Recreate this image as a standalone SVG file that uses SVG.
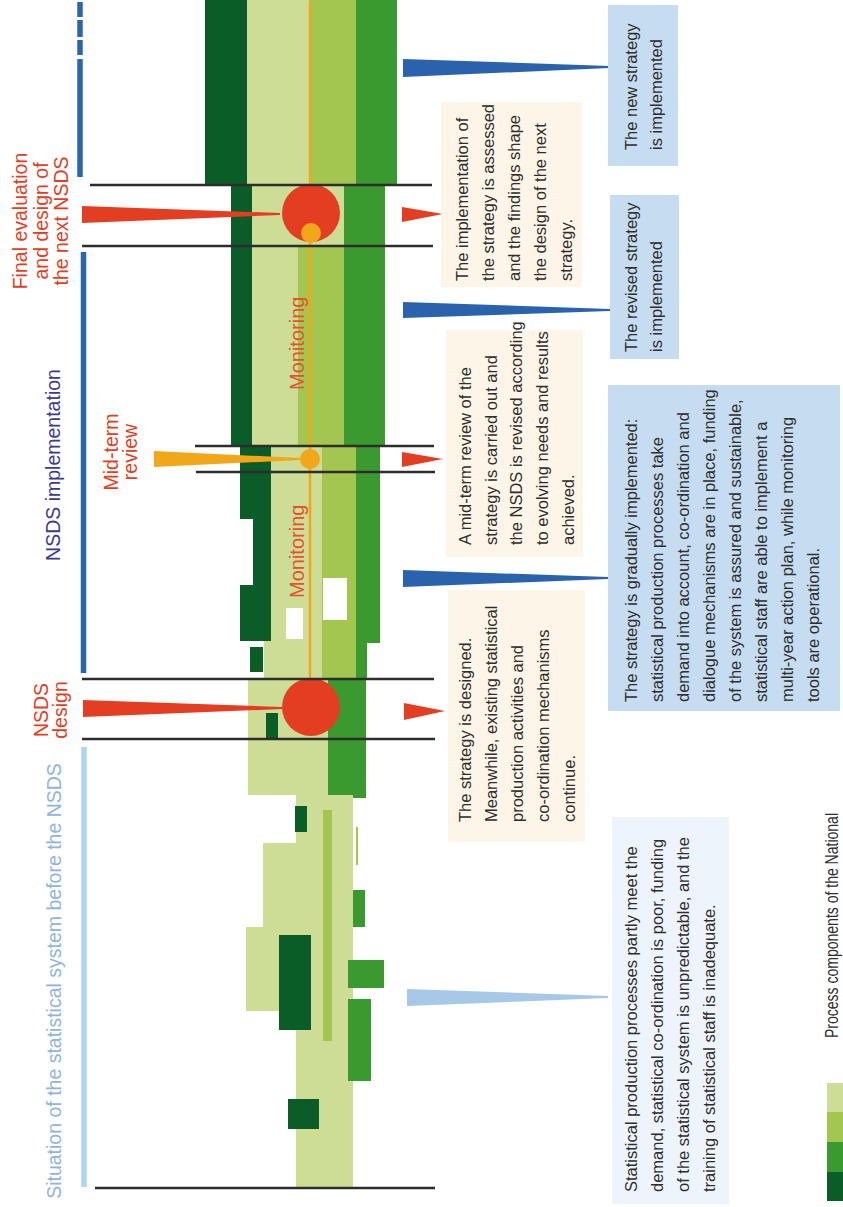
<svg xmlns="http://www.w3.org/2000/svg" width="843" height="1207" viewBox="0 0 843 1207">
<style>
.dg{fill:#0b5d27}.g{fill:#3a9a2f}.mg{fill:#a3c651}.lg{fill:#cddd95}.wh{fill:#fff}
.bl{stroke:#2d2d2d;stroke-width:2.5}
.box{font-family:"Liberation Sans",Arial,sans-serif;font-size:16.5px;fill:#2e2e2e}
.lab{font-family:"Liberation Sans",Arial,sans-serif;font-size:19.5px}
.mon{font-size:20px;fill:#e8502a}
.leg{font-size:18px}
.red{fill:#e33e22}.tan{fill:#fdf5e7}.bbox{fill:#c6dcf0}
</style>
<rect width="843" height="1207" fill="#fff"/>
<g id="band">
<rect class="dg" x="205" y="0" width="42" height="185"/>
<rect class="lg" x="247" y="0" width="62" height="185"/>
<rect class="mg" x="309" y="0" width="47" height="185"/>
<rect class="g" x="356" y="0" width="41" height="185"/>
<rect class="dg" x="231" y="185" width="21" height="261"/>
<rect class="lg" x="252" y="185" width="46" height="261"/>
<rect class="lg" x="298" y="185" width="46" height="61"/>
<rect class="mg" x="298" y="246" width="46" height="200"/>
<rect class="g" x="344" y="185" width="41" height="261"/>
<path class="dg" d="M240,446H271V641H240V585H253V519H240Z"/>
<rect class="lg" x="271" y="446" width="51" height="195"/>
<rect class="lg" x="264" y="641" width="58" height="38"/>
<rect class="mg" x="322" y="446" width="34" height="233"/>
<rect class="g" x="356" y="446" width="24" height="197"/>
<rect class="g" x="356" y="643" width="11" height="36"/>
<rect class="wh" x="323" y="578" width="24" height="42"/>
<rect class="wh" x="286" y="608" width="17" height="31"/>
<rect class="dg" x="250" y="647" width="13" height="25"/>
<rect class="lg" x="248" y="679" width="80" height="116"/>
<rect class="g" x="328" y="679" width="38" height="119"/>
<rect class="dg" x="266" y="713" width="12" height="26"/>
<rect class="lg" x="296" y="795" width="57" height="393"/>
<rect class="lg" x="263" y="843" width="33" height="84"/>
<rect class="lg" x="246" y="927" width="50" height="84"/>
<rect class="dg" x="295" y="806" width="12" height="26"/>
<rect class="dg" x="279" y="935" width="32" height="95"/>
<rect class="dg" x="288" y="1099" width="31" height="30"/>
<rect class="mg" x="323" y="810" width="9" height="231"/>
<rect class="mg" x="356" y="827" width="2" height="38"/>
<rect class="g" x="353" y="890" width="12" height="37"/>
<rect class="g" x="348" y="960" width="36" height="28"/>
<rect class="g" x="348" y="999" width="23" height="82"/>
<line x1="310" y1="2" x2="310" y2="680" stroke="#f2a71b" stroke-width="2.5"/>
<circle class="red" cx="311" cy="213" r="29"/>
<circle cx="311" cy="233" r="10" fill="#f2a71b"/>
<circle cx="310" cy="459" r="10" fill="#f2a71b"/>
<circle class="red" cx="311" cy="707" r="29"/>
<text class="lab mon" transform="translate(304,390) rotate(-90)">Monitoring</text>
<text class="lab mon" transform="translate(304,598) rotate(-90)">Monitoring</text>
</g>
<g id="timeline">
<line class="bl" x1="90" y1="185" x2="432" y2="185"/>
<line class="bl" x1="82" y1="246" x2="433" y2="246"/>
<line class="bl" x1="195" y1="446" x2="434" y2="446"/>
<line class="bl" x1="196" y1="472" x2="435" y2="472"/>
<line class="bl" x1="82" y1="679" x2="434" y2="679"/>
<line class="bl" x1="82" y1="739" x2="435" y2="739"/>
<line class="bl" x1="95" y1="1188" x2="435" y2="1188"/>
<g stroke="#2a66b0" stroke-width="5.5">
<line x1="80" y1="2" x2="80" y2="17"/>
<line x1="80" y1="20" x2="80" y2="37"/>
<line x1="80" y1="40" x2="80" y2="55"/>
<line x1="80" y1="59" x2="80" y2="177"/>
<line x1="83.5" y1="252" x2="83.5" y2="673"/>
</g>
<line x1="84" y1="747" x2="84" y2="1187" stroke="#aed5f2" stroke-width="5.5"/>
</g>
<g id="connectors">
<polygon class="red" points="82,206 280,213 280,215 82,223"/>
<polygon class="red" points="83,700 282,707 282,709 83,717"/>
<polygon fill="#f2a71b" points="154,451 300,458 300,460 154,467"/>
<polygon class="red" points="402,207 443,214 402,222"/>
<polygon class="red" points="402,452 443,459 402,467"/>
<polygon class="red" points="404,703 445,711 404,720"/>
<polygon fill="#2a62ad" points="403,59 610,66 610,68 403,77"/>
<polygon fill="#2a62ad" points="403,302 610,309 610,311 403,318"/>
<polygon fill="#2a62ad" points="403,570 608,577 608,579 403,587"/>
<polygon fill="#a7c8e6" points="407,989 608,996 608,998 407,1006"/>
</g>
<g id="label-final">
<text class="lab red" text-anchor="middle" transform="translate(27,221) rotate(-90)"><tspan x="0" y="0">Final evaluation</tspan><tspan x="0" y="20.5">and design of</tspan><tspan x="0" y="41">the next NSDS</tspan></text>
</g>
<g id="label-impl">
<text class="lab" fill="#3d3b8e" text-anchor="middle" transform="translate(60,465) rotate(-90)">NSDS implementation</text>
</g>
<g id="label-mid">
<text class="lab red" text-anchor="middle" transform="translate(118,452) rotate(-90)"><tspan x="0" y="0">Mid-term</tspan><tspan x="0" y="19">review</tspan></text>
</g>
<g id="label-design">
<text class="lab red" text-anchor="middle" transform="translate(48,710) rotate(-90)"><tspan x="0" y="0">NSDS</tspan><tspan x="0" y="19">design</tspan></text>
</g>
<g id="label-situation">
<text class="lab" fill="#8fb4de" text-anchor="middle" transform="translate(61,981) rotate(-90)">Situation of the statistical system before the NSDS</text>
</g>
<g id="box-final">
<rect class="tan" x="441" y="102" width="141" height="185"/>
<text class="box" transform="translate(468,281) rotate(-90)"><tspan x="0" y="0">The implementation of</tspan><tspan x="0" y="26">the strategy is assessed</tspan><tspan x="0" y="52">and the findings shape</tspan><tspan x="0" y="78">the design of the next</tspan><tspan x="0" y="104">strategy.</tspan></text>
</g>
<g id="box-mid">
<rect class="tan" x="446" y="330" width="137" height="227"/>
<text class="box" transform="translate(471,545) rotate(-90)"><tspan x="0" y="0">A mid-term review of the</tspan><tspan x="0" y="25.7">strategy is carried out and</tspan><tspan x="0" y="51.4">the NSDS is revised according</tspan><tspan x="0" y="77.1">to evolving needs and results</tspan><tspan x="0" y="102.8">achieved.</tspan></text>
</g>
<g id="box-design">
<rect class="tan" x="448" y="590" width="137" height="252"/>
<text class="box" transform="translate(471,822) rotate(-90)"><tspan x="0" y="0">The strategy is designed.</tspan><tspan x="0" y="26">Meanwhile, existing statistical</tspan><tspan x="0" y="52">production activities and</tspan><tspan x="0" y="78">co-ordination mechanisms</tspan><tspan x="0" y="104">continue.</tspan></text>
</g>
<g id="box-new">
<rect class="bbox" x="608" y="5" width="70" height="161"/>
<text class="box" transform="translate(637,150) rotate(-90)"><tspan x="0" y="0">The new strategy</tspan><tspan x="0" y="25">is implemented</tspan></text>
</g>
<g id="box-revised">
<rect class="bbox" x="610" y="195" width="69" height="164"/>
<text class="box" transform="translate(637,352) rotate(-90)"><tspan x="0" y="0">The revised strategy</tspan><tspan x="0" y="25">is implemented</tspan></text>
</g>
<g id="box-gradual">
<rect class="bbox" x="608" y="385" width="232" height="326"/>
<text class="box" transform="translate(637,702) rotate(-90)"><tspan x="0" y="0">The strategy is gradually implemented:</tspan><tspan x="0" y="26">statistical production processes take</tspan><tspan x="0" y="52">demand into account, co-ordination and</tspan><tspan x="0" y="78">dialogue mechanisms are in place, funding</tspan><tspan x="0" y="104">of the system is assured and sustainable,</tspan><tspan x="0" y="130">statistical staff are able to implement a</tspan><tspan x="0" y="156">multi-year action plan, while monitoring</tspan><tspan x="0" y="182">tools are operational.</tspan></text>
</g>
<g id="box-before">
<rect fill="#eef4fb" x="612" y="817" width="117" height="387"/>
<text class="box" transform="translate(637,1192) rotate(-90)"><tspan x="0" y="0">Statistical production processes partly meet the</tspan><tspan x="0" y="26">demand, statistical co-ordination is poor, funding</tspan><tspan x="0" y="52">of the statistical system is unpredictable, and the</tspan><tspan x="0" y="78">training of statistical staff is inadequate.</tspan></text>
</g>
<g id="legend">
<rect class="lg" x="827" y="1083" width="16" height="29"/>
<rect class="mg" x="827" y="1112" width="16" height="30"/>
<rect class="g" x="827" y="1142" width="16" height="30"/>
<rect class="dg" x="827" y="1172" width="16" height="29"/>
<text class="box leg" transform="translate(838,1038) rotate(-90)" textLength="225" lengthAdjust="spacingAndGlyphs">Process components of the National</text>
</g>
</svg>
